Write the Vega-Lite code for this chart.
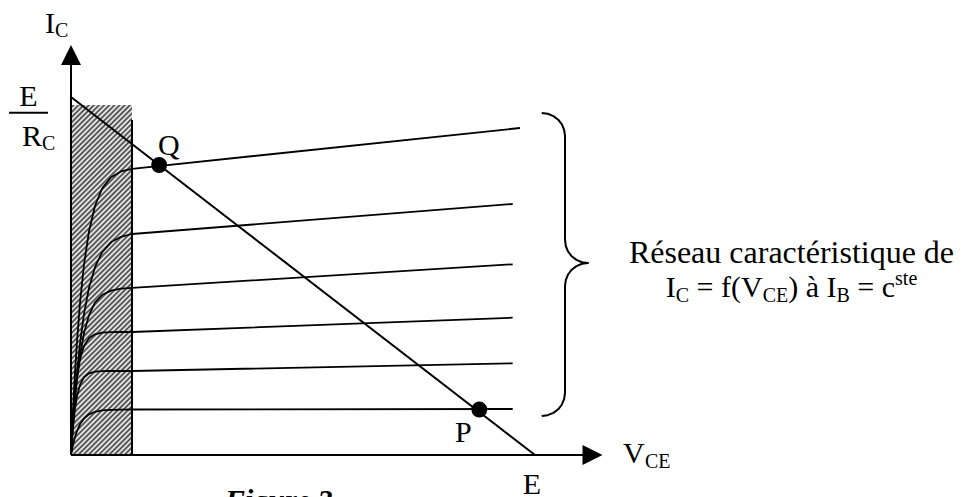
{
  "$schema": "https://vega.github.io/schema/vega-lite/v6.json",
  "width": 961,
  "height": 497,
  "autosize": {"type": "none"},
  "padding": 0,
  "background": "white",
  "config": {"view": {"stroke": null}, "text": {"font": "Liberation Serif", "color": "black"}},
  "datasets": {
    "blocked": [{"x": 0, "x2": 1.315, "y": 0, "y2": 9.777}],
    "curves": [
      {"curve": 1, "i": 0, "x": 0, "y": 0}, {"curve": 1, "i": 1, "x": 0.022, "y": 0.642}, {"curve": 1, "i": 2, "x": 0.043, "y": 1.235}, {"curve": 1, "i": 3, "x": 0.086, "y": 2.282}, {"curve": 1, "i": 4, "x": 0.129, "y": 3.165}, {"curve": 1, "i": 5, "x": 0.194, "y": 4.243}, {"curve": 1, "i": 6, "x": 0.28, "y": 5.321}, {"curve": 1, "i": 7, "x": 0.388, "y": 6.249}, {"curve": 1, "i": 8, "x": 0.517, "y": 6.955}, {"curve": 1, "i": 9, "x": 0.668, "y": 7.439}, {"curve": 1, "i": 10, "x": 0.862, "y": 7.757}, {"curve": 1, "i": 11, "x": 1.078, "y": 7.919}, {"curve": 1, "i": 12, "x": 1.315, "y": 7.994}, {"curve": 1, "i": 13, "x": 9.677, "y": 9.134},
      {"curve": 2, "i": 0, "x": 0, "y": 0}, {"curve": 2, "i": 1, "x": 0.022, "y": 0.461}, {"curve": 2, "i": 2, "x": 0.043, "y": 0.888}, {"curve": 2, "i": 3, "x": 0.086, "y": 1.651}, {"curve": 2, "i": 4, "x": 0.129, "y": 2.302}, {"curve": 2, "i": 5, "x": 0.194, "y": 3.112}, {"curve": 2, "i": 6, "x": 0.28, "y": 3.939}, {"curve": 2, "i": 7, "x": 0.388, "y": 4.67}, {"curve": 2, "i": 8, "x": 0.517, "y": 5.246}, {"curve": 2, "i": 9, "x": 0.668, "y": 5.656}, {"curve": 2, "i": 10, "x": 0.862, "y": 5.941}, {"curve": 2, "i": 11, "x": 1.078, "y": 6.095}, {"curve": 2, "i": 12, "x": 1.315, "y": 6.173}, {"curve": 2, "i": 13, "x": 9.519, "y": 7.011},
      {"curve": 3, "i": 0, "x": 0, "y": 0}, {"curve": 3, "i": 1, "x": 0.022, "y": 0.444}, {"curve": 3, "i": 2, "x": 0.043, "y": 0.849}, {"curve": 3, "i": 3, "x": 0.086, "y": 1.542}, {"curve": 3, "i": 4, "x": 0.129, "y": 2.112}, {"curve": 3, "i": 5, "x": 0.194, "y": 2.777}, {"curve": 3, "i": 6, "x": 0.28, "y": 3.405}, {"curve": 3, "i": 7, "x": 0.388, "y": 3.905}, {"curve": 3, "i": 8, "x": 0.517, "y": 4.254}, {"curve": 3, "i": 9, "x": 0.668, "y": 4.469}, {"curve": 3, "i": 10, "x": 0.862, "y": 4.592}, {"curve": 3, "i": 11, "x": 1.078, "y": 4.648}, {"curve": 3, "i": 12, "x": 1.315, "y": 4.668}, {"curve": 3, "i": 13, "x": 9.519, "y": 5.327},
      {"curve": 4, "i": 0, "x": 0, "y": 0}, {"curve": 4, "i": 1, "x": 0.022, "y": 0.528}, {"curve": 4, "i": 2, "x": 0.043, "y": 0.975}, {"curve": 4, "i": 3, "x": 0.086, "y": 1.673}, {"curve": 4, "i": 4, "x": 0.129, "y": 2.17}, {"curve": 4, "i": 5, "x": 0.194, "y": 2.67}, {"curve": 4, "i": 6, "x": 0.28, "y": 3.042}, {"curve": 4, "i": 7, "x": 0.388, "y": 3.265}, {"curve": 4, "i": 8, "x": 0.517, "y": 3.372}, {"curve": 4, "i": 9, "x": 0.668, "y": 3.416}, {"curve": 4, "i": 10, "x": 0.862, "y": 3.43}, {"curve": 4, "i": 11, "x": 1.078, "y": 3.436}, {"curve": 4, "i": 12, "x": 1.315, "y": 3.436}, {"curve": 4, "i": 13, "x": 9.519, "y": 3.835},
      {"curve": 5, "i": 0, "x": 0, "y": 0}, {"curve": 5, "i": 1, "x": 0.022, "y": 0.425}, {"curve": 5, "i": 2, "x": 0.043, "y": 0.774}, {"curve": 5, "i": 3, "x": 0.086, "y": 1.293}, {"curve": 5, "i": 4, "x": 0.129, "y": 1.64}, {"curve": 5, "i": 5, "x": 0.194, "y": 1.958}, {"curve": 5, "i": 6, "x": 0.28, "y": 2.173}, {"curve": 5, "i": 7, "x": 0.388, "y": 2.282}, {"curve": 5, "i": 8, "x": 0.517, "y": 2.327}, {"curve": 5, "i": 9, "x": 0.668, "y": 2.341}, {"curve": 5, "i": 10, "x": 0.862, "y": 2.346}, {"curve": 5, "i": 11, "x": 1.078, "y": 2.346}, {"curve": 5, "i": 12, "x": 1.315, "y": 2.346}, {"curve": 5, "i": 13, "x": 9.519, "y": 2.561},
      {"curve": 6, "i": 0, "x": 0, "y": 0}, {"curve": 6, "i": 1, "x": 0.022, "y": 0.148}, {"curve": 6, "i": 2, "x": 0.043, "y": 0.282}, {"curve": 6, "i": 3, "x": 0.086, "y": 0.5}, {"curve": 6, "i": 4, "x": 0.129, "y": 0.67}, {"curve": 6, "i": 5, "x": 0.194, "y": 0.858}, {"curve": 6, "i": 6, "x": 0.28, "y": 1.02}, {"curve": 6, "i": 7, "x": 0.388, "y": 1.137}, {"curve": 6, "i": 8, "x": 0.517, "y": 1.207}, {"curve": 6, "i": 9, "x": 0.668, "y": 1.246}, {"curve": 6, "i": 10, "x": 0.862, "y": 1.263}, {"curve": 6, "i": 11, "x": 1.078, "y": 1.268}, {"curve": 6, "i": 12, "x": 1.315, "y": 1.271}, {"curve": 6, "i": 13, "x": 9.519, "y": 1.285}
    ],
    "segments": [
      {"part": "axis I_C", "x": 0, "y": 0, "x2": 0, "y2": 11.3},
      {"part": "axis V_CE", "x": 0, "y": 0, "x2": 11.3, "y2": 0},
      {"part": "load line", "x": 0, "y": 10, "x2": 10, "y2": 0},
      {"part": "saturation edge", "x": 1.315, "y": 0, "x2": 1.315, "y2": 9.358},
      {"part": "fraction bar", "x": -1.336, "y": 9.561, "x2": -0.496, "y2": 9.561}
    ],
    "brace": [
      {"i": 1, "x": 10.144, "y": 9.553}, {"i": 2, "x": 10.274, "y": 9.531}, {"i": 3, "x": 10.397, "y": 9.466}, {"i": 4, "x": 10.5, "y": 9.366}, {"i": 5, "x": 10.58, "y": 9.232}, {"i": 6, "x": 10.629, "y": 9.078}, {"i": 7, "x": 10.647, "y": 8.911},
      {"i": 8, "x": 10.647, "y": 6.006}, {"i": 9, "x": 10.664, "y": 5.838}, {"i": 10, "x": 10.713, "y": 5.684}, {"i": 11, "x": 10.791, "y": 5.55}, {"i": 12, "x": 10.894, "y": 5.45}, {"i": 13, "x": 11.013, "y": 5.385}, {"i": 14, "x": 11.142, "y": 5.363},
      {"i": 15, "x": 11.013, "y": 5.341}, {"i": 16, "x": 10.894, "y": 5.277}, {"i": 17, "x": 10.791, "y": 5.176}, {"i": 18, "x": 10.713, "y": 5.042}, {"i": 19, "x": 10.664, "y": 4.888}, {"i": 20, "x": 10.647, "y": 4.721},
      {"i": 21, "x": 10.647, "y": 1.732}, {"i": 22, "x": 10.629, "y": 1.566}, {"i": 23, "x": 10.58, "y": 1.411}, {"i": 24, "x": 10.5, "y": 1.277}, {"i": 25, "x": 10.397, "y": 1.176}, {"i": 26, "x": 10.274, "y": 1.112}, {"i": 27, "x": 10.144, "y": 1.089}
    ],
    "arrows": [
      {"dir": "up", "x": 0, "y": 11.173},
      {"dir": "right", "x": 11.239, "y": 0}
    ],
    "points": [
      {"name": "Q", "x": 1.9, "y": 8.1},
      {"name": "P", "x": 8.8, "y": 1.27}
    ],
    "labels": [
      {"role": "label", "text": "I", "x": -0.56, "y": 11.788},
      {"role": "index", "text": "C", "x": -0.345, "y": 11.676},
      {"role": "label-centre", "text": "E", "x": -0.916, "y": 9.749},
      {"role": "label", "text": "R", "x": -1.056, "y": 8.631},
      {"role": "index", "text": "C", "x": -0.625, "y": 8.52},
      {"role": "label", "text": "Q", "x": 1.875, "y": 8.38},
      {"role": "label", "text": "P", "x": 8.276, "y": 0.363},
      {"role": "label-centre", "text": "E", "x": 9.935, "y": -1.089},
      {"role": "label", "text": "V", "x": 11.897, "y": -0.223},
      {"role": "index", "text": "CE", "x": 12.371, "y": -0.363},
      {"role": "heading", "text": "Réseau caractéristique de", "x": 15.528, "y": 5.363},
      {"role": "label", "text": "I", "x": 12.818, "y": 4.413},
      {"role": "index", "text": "C", "x": 13.034, "y": 4.274},
      {"role": "label", "text": "= f(V", "x": 13.482, "y": 4.413},
      {"role": "index", "text": "CE", "x": 14.906, "y": 4.274},
      {"role": "label", "text": ") à I", "x": 15.458, "y": 4.413},
      {"role": "index", "text": "B", "x": 16.499, "y": 4.274},
      {"role": "label", "text": "= c", "x": 16.947, "y": 4.413},
      {"role": "index", "text": "ste", "x": 17.76, "y": 4.749},
      {"role": "caption", "text": "Figure 2", "x": 3.319, "y": -1.536}
    ]
  },
  "encoding": {
    "x": {"field": "x", "type": "quantitative", "scale": {"domain": [-1.53, 19.181], "nice": false, "zero": false}, "axis": null},
    "y": {"field": "y", "type": "quantitative", "scale": {"domain": [-1.173, 12.709], "nice": false, "zero": false}, "axis": null}
  },
  "layer": [
    {
      "data": {"name": "blocked"},
      "mark": {
        "type": "rect",
        "strokeWidth": 0,
        "fill": {
          "gradient": "linear", "x1": 0, "y1": 0, "x2": 0.1986, "y2": 1.1397,
          "stops": [
            {"offset": 0, "color": "#ffffff"}, {"offset": 0.00625, "color": "#3a3a3a"}, {"offset": 0.0125, "color": "#ffffff"}, {"offset": 0.01875, "color": "#3a3a3a"}, {"offset": 0.025, "color": "#ffffff"}, {"offset": 0.03125, "color": "#3a3a3a"}, {"offset": 0.0375, "color": "#ffffff"}, {"offset": 0.04375, "color": "#3a3a3a"}, {"offset": 0.05, "color": "#ffffff"}, {"offset": 0.05625, "color": "#3a3a3a"}, {"offset": 0.0625, "color": "#ffffff"}, {"offset": 0.06875, "color": "#3a3a3a"}, {"offset": 0.075, "color": "#ffffff"}, {"offset": 0.08125, "color": "#3a3a3a"}, {"offset": 0.0875, "color": "#ffffff"}, {"offset": 0.09375, "color": "#3a3a3a"},
            {"offset": 0.1, "color": "#ffffff"}, {"offset": 0.10625, "color": "#3a3a3a"}, {"offset": 0.1125, "color": "#ffffff"}, {"offset": 0.11875, "color": "#3a3a3a"}, {"offset": 0.125, "color": "#ffffff"}, {"offset": 0.13125, "color": "#3a3a3a"}, {"offset": 0.1375, "color": "#ffffff"}, {"offset": 0.14375, "color": "#3a3a3a"}, {"offset": 0.15, "color": "#ffffff"}, {"offset": 0.15625, "color": "#3a3a3a"}, {"offset": 0.1625, "color": "#ffffff"}, {"offset": 0.16875, "color": "#3a3a3a"}, {"offset": 0.175, "color": "#ffffff"}, {"offset": 0.18125, "color": "#3a3a3a"}, {"offset": 0.1875, "color": "#ffffff"}, {"offset": 0.19375, "color": "#3a3a3a"},
            {"offset": 0.2, "color": "#ffffff"}, {"offset": 0.20625, "color": "#3a3a3a"}, {"offset": 0.2125, "color": "#ffffff"}, {"offset": 0.21875, "color": "#3a3a3a"}, {"offset": 0.225, "color": "#ffffff"}, {"offset": 0.23125, "color": "#3a3a3a"}, {"offset": 0.2375, "color": "#ffffff"}, {"offset": 0.24375, "color": "#3a3a3a"}, {"offset": 0.25, "color": "#ffffff"}, {"offset": 0.25625, "color": "#3a3a3a"}, {"offset": 0.2625, "color": "#ffffff"}, {"offset": 0.26875, "color": "#3a3a3a"}, {"offset": 0.275, "color": "#ffffff"}, {"offset": 0.28125, "color": "#3a3a3a"}, {"offset": 0.2875, "color": "#ffffff"}, {"offset": 0.29375, "color": "#3a3a3a"},
            {"offset": 0.3, "color": "#ffffff"}, {"offset": 0.30625, "color": "#3a3a3a"}, {"offset": 0.3125, "color": "#ffffff"}, {"offset": 0.31875, "color": "#3a3a3a"}, {"offset": 0.325, "color": "#ffffff"}, {"offset": 0.33125, "color": "#3a3a3a"}, {"offset": 0.3375, "color": "#ffffff"}, {"offset": 0.34375, "color": "#3a3a3a"}, {"offset": 0.35, "color": "#ffffff"}, {"offset": 0.35625, "color": "#3a3a3a"}, {"offset": 0.3625, "color": "#ffffff"}, {"offset": 0.36875, "color": "#3a3a3a"}, {"offset": 0.375, "color": "#ffffff"}, {"offset": 0.38125, "color": "#3a3a3a"}, {"offset": 0.3875, "color": "#ffffff"}, {"offset": 0.39375, "color": "#3a3a3a"},
            {"offset": 0.4, "color": "#ffffff"}, {"offset": 0.40625, "color": "#3a3a3a"}, {"offset": 0.4125, "color": "#ffffff"}, {"offset": 0.41875, "color": "#3a3a3a"}, {"offset": 0.425, "color": "#ffffff"}, {"offset": 0.43125, "color": "#3a3a3a"}, {"offset": 0.4375, "color": "#ffffff"}, {"offset": 0.44375, "color": "#3a3a3a"}, {"offset": 0.45, "color": "#ffffff"}, {"offset": 0.45625, "color": "#3a3a3a"}, {"offset": 0.4625, "color": "#ffffff"}, {"offset": 0.46875, "color": "#3a3a3a"}, {"offset": 0.475, "color": "#ffffff"}, {"offset": 0.48125, "color": "#3a3a3a"}, {"offset": 0.4875, "color": "#ffffff"}, {"offset": 0.49375, "color": "#3a3a3a"},
            {"offset": 0.5, "color": "#ffffff"}, {"offset": 0.50625, "color": "#3a3a3a"}, {"offset": 0.5125, "color": "#ffffff"}, {"offset": 0.51875, "color": "#3a3a3a"}, {"offset": 0.525, "color": "#ffffff"}, {"offset": 0.53125, "color": "#3a3a3a"}, {"offset": 0.5375, "color": "#ffffff"}, {"offset": 0.54375, "color": "#3a3a3a"}, {"offset": 0.55, "color": "#ffffff"}, {"offset": 0.55625, "color": "#3a3a3a"}, {"offset": 0.5625, "color": "#ffffff"}, {"offset": 0.56875, "color": "#3a3a3a"}, {"offset": 0.575, "color": "#ffffff"}, {"offset": 0.58125, "color": "#3a3a3a"}, {"offset": 0.5875, "color": "#ffffff"}, {"offset": 0.59375, "color": "#3a3a3a"},
            {"offset": 0.6, "color": "#ffffff"}, {"offset": 0.60625, "color": "#3a3a3a"}, {"offset": 0.6125, "color": "#ffffff"}, {"offset": 0.61875, "color": "#3a3a3a"}, {"offset": 0.625, "color": "#ffffff"}, {"offset": 0.63125, "color": "#3a3a3a"}, {"offset": 0.6375, "color": "#ffffff"}, {"offset": 0.64375, "color": "#3a3a3a"}, {"offset": 0.65, "color": "#ffffff"}, {"offset": 0.65625, "color": "#3a3a3a"}, {"offset": 0.6625, "color": "#ffffff"}, {"offset": 0.66875, "color": "#3a3a3a"}, {"offset": 0.675, "color": "#ffffff"}, {"offset": 0.68125, "color": "#3a3a3a"}, {"offset": 0.6875, "color": "#ffffff"}, {"offset": 0.69375, "color": "#3a3a3a"},
            {"offset": 0.7, "color": "#ffffff"}, {"offset": 0.70625, "color": "#3a3a3a"}, {"offset": 0.7125, "color": "#ffffff"}, {"offset": 0.71875, "color": "#3a3a3a"}, {"offset": 0.725, "color": "#ffffff"}, {"offset": 0.73125, "color": "#3a3a3a"}, {"offset": 0.7375, "color": "#ffffff"}, {"offset": 0.74375, "color": "#3a3a3a"}, {"offset": 0.75, "color": "#ffffff"}, {"offset": 0.75625, "color": "#3a3a3a"}, {"offset": 0.7625, "color": "#ffffff"}, {"offset": 0.76875, "color": "#3a3a3a"}, {"offset": 0.775, "color": "#ffffff"}, {"offset": 0.78125, "color": "#3a3a3a"}, {"offset": 0.7875, "color": "#ffffff"}, {"offset": 0.79375, "color": "#3a3a3a"},
            {"offset": 0.8, "color": "#ffffff"}, {"offset": 0.80625, "color": "#3a3a3a"}, {"offset": 0.8125, "color": "#ffffff"}, {"offset": 0.81875, "color": "#3a3a3a"}, {"offset": 0.825, "color": "#ffffff"}, {"offset": 0.83125, "color": "#3a3a3a"}, {"offset": 0.8375, "color": "#ffffff"}, {"offset": 0.84375, "color": "#3a3a3a"}, {"offset": 0.85, "color": "#ffffff"}, {"offset": 0.85625, "color": "#3a3a3a"}, {"offset": 0.8625, "color": "#ffffff"}, {"offset": 0.86875, "color": "#3a3a3a"}, {"offset": 0.875, "color": "#ffffff"}, {"offset": 0.88125, "color": "#3a3a3a"}, {"offset": 0.8875, "color": "#ffffff"}, {"offset": 0.89375, "color": "#3a3a3a"},
            {"offset": 0.9, "color": "#ffffff"}, {"offset": 0.90625, "color": "#3a3a3a"}, {"offset": 0.9125, "color": "#ffffff"}, {"offset": 0.91875, "color": "#3a3a3a"}, {"offset": 0.925, "color": "#ffffff"}, {"offset": 0.93125, "color": "#3a3a3a"}, {"offset": 0.9375, "color": "#ffffff"}, {"offset": 0.94375, "color": "#3a3a3a"}, {"offset": 0.95, "color": "#ffffff"}, {"offset": 0.95625, "color": "#3a3a3a"}, {"offset": 0.9625, "color": "#ffffff"}, {"offset": 0.96875, "color": "#3a3a3a"}, {"offset": 0.975, "color": "#ffffff"}, {"offset": 0.98125, "color": "#3a3a3a"}, {"offset": 0.9875, "color": "#ffffff"}, {"offset": 0.99375, "color": "#3a3a3a"},
            {"offset": 1, "color": "#ffffff"}
          ]
        }
      },
      "encoding": {"x2": {"field": "x2"}, "y2": {"field": "y2"}}
    },
    {
      "data": {"name": "curves"},
      "mark": {"type": "line", "color": "black", "strokeWidth": 1.8, "strokeJoin": "round"},
      "encoding": {"detail": {"field": "curve", "type": "nominal"}, "order": {"field": "i", "type": "quantitative"}}
    },
    {
      "data": {"name": "segments"},
      "mark": {"type": "rule", "color": "black", "strokeWidth": 2},
      "encoding": {"x2": {"field": "x2"}, "y2": {"field": "y2"}}
    },
    {
      "data": {"name": "brace"},
      "mark": {"type": "line", "color": "black", "strokeWidth": 2, "strokeJoin": "round"},
      "encoding": {"order": {"field": "i", "type": "quantitative"}}
    },
    {
      "data": {"name": "arrows"},
      "mark": {"type": "point", "filled": true, "color": "black", "opacity": 1, "size": 400},
      "encoding": {
        "shape": {"field": "dir", "type": "nominal", "scale": {"domain": ["up", "right"], "range": ["M0,-1L1,1L-1,1Z", "M1,0L-1,-1L-1,1Z"]}, "legend": null}
      }
    },
    {
      "data": {"name": "points"},
      "mark": {"type": "point", "shape": "circle", "filled": true, "color": "black", "opacity": 1, "size": 254}
    },
    {
      "data": {"name": "labels"},
      "transform": [{"filter": "datum.role === 'label'"}],
      "mark": {"type": "text", "align": "left", "baseline": "alphabetic", "fontSize": 30},
      "encoding": {"text": {"field": "text"}}
    },
    {
      "data": {"name": "labels"},
      "transform": [{"filter": "datum.role === 'label-centre'"}],
      "mark": {"type": "text", "align": "center", "baseline": "alphabetic", "fontSize": 30},
      "encoding": {"text": {"field": "text"}}
    },
    {
      "data": {"name": "labels"},
      "transform": [{"filter": "datum.role === 'heading'"}],
      "mark": {"type": "text", "align": "center", "baseline": "alphabetic", "fontSize": 32},
      "encoding": {"text": {"field": "text"}}
    },
    {
      "data": {"name": "labels"},
      "transform": [{"filter": "datum.role === 'index'"}],
      "mark": {"type": "text", "align": "left", "baseline": "alphabetic", "fontSize": 20},
      "encoding": {"text": {"field": "text"}}
    },
    {
      "data": {"name": "labels"},
      "transform": [{"filter": "datum.role === 'caption'"}],
      "mark": {"type": "text", "align": "left", "baseline": "alphabetic", "fontSize": 30, "fontWeight": "bold", "fontStyle": "italic"},
      "encoding": {"text": {"field": "text"}}
    }
  ]
}
